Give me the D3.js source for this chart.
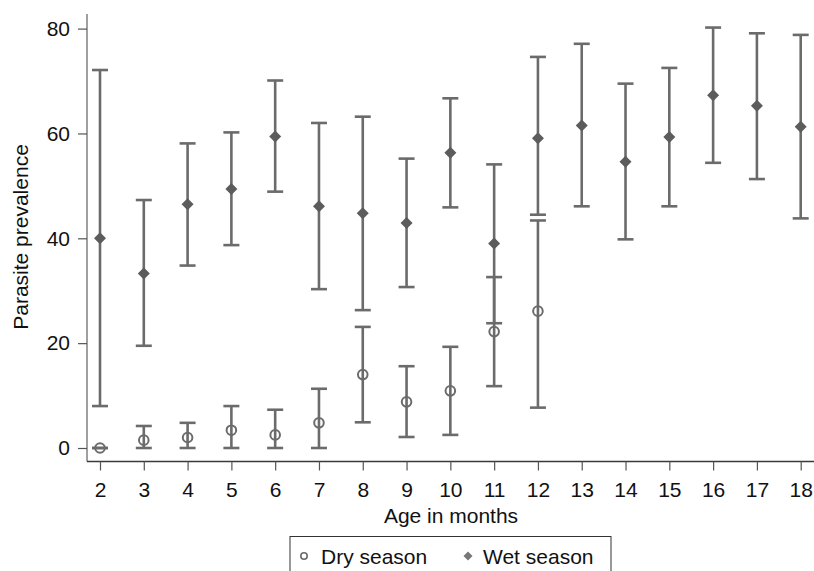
<!DOCTYPE html>
<html><head><meta charset="utf-8">
<script src="https://cdn.jsdelivr.net/npm/d3@7"></script>
<style>body{margin:0;background:#fff;} svg{display:block;font-family:"Liberation Sans",Arial,Helvetica,sans-serif;}</style>
</head><body>
<svg id="c" width="814" height="571"></svg>
<script>
const ages = [2,3,4,5,6,7,8,9,10,11,12,13,14,15,16,17,18];
const wetMean = [40.0,33.3,46.5,49.4,59.4,46.1,44.8,42.9,56.3,39.0,59.1,61.5,54.6,59.3,67.3,65.3,61.3];
const wetLow  = [8.0,19.5,34.8,38.7,48.9,30.3,26.3,30.7,45.9,23.8,44.5,46.1,39.8,46.1,54.4,51.3,43.8];
const wetHigh = [72.1,47.3,58.1,60.2,70.1,62.0,63.2,55.2,66.7,54.1,74.6,77.1,69.5,72.5,80.2,79.1,78.8];
const dryAges = [2,3,4,5,6,7,8,9,10,11,12];
const dryMean = [0.0,1.5,2.0,3.4,2.5,4.8,14.0,8.8,10.9,22.2,26.1];
const dryLow  = [0.0,0.0,0.0,0.0,0.0,0.0,4.9,2.1,2.5,11.8,7.7];
const dryHigh = [0.0,4.2,4.8,8.0,7.3,11.3,23.1,15.6,19.3,32.6,43.4];
const yTicks = [0,20,40,60,80];
const legendLabels = ["Dry season","Wet season"];

const FS = 21;
const svg = d3.select("#c");
const x = d3.scaleLinear().domain([2,18]).range([100,800.7]);
const y = d3.scaleLinear().domain([0,80]).range([448,28.6]);
const col = "#6b6b6b";
const fill = "#5c5c5c";
const capW = 8;

// axes lines
const x0 = 87, yBottom = 461.5, yTop = 14, xRight = 814;
svg.append("line").attr("x1",x0).attr("x2",x0).attr("y1",yTop).attr("y2",yBottom).attr("stroke","#808080").attr("stroke-width",1.5);
svg.append("line").attr("x1",x0).attr("x2",xRight).attr("y1",yBottom).attr("y2",yBottom).attr("stroke","#3a3a3a").attr("stroke-width",1.3);

// y axis ticks
const yAxis = d3.axisLeft(y).tickValues(yTicks).tickSize(9).tickPadding(8);
const gy = svg.append("g").attr("transform",`translate(${x0},0)`).call(yAxis);
gy.select(".domain").remove();
gy.selectAll(".tick line").attr("stroke","#555").attr("stroke-width",1.2);
gy.selectAll(".tick text").attr("font-size",FS).attr("fill","#111").attr("font-family","Liberation Sans, Arial, sans-serif");

// x axis ticks
const xAxis = d3.axisBottom(x).tickValues(ages).tickFormat(d3.format("d")).tickSize(9).tickPadding(12);
const gx = svg.append("g").attr("transform",`translate(0,${yBottom})`).call(xAxis);
gx.select(".domain").remove();
gx.selectAll(".tick line").attr("stroke","#555").attr("stroke-width",1.2);
gx.selectAll(".tick text").attr("font-size",FS).attr("fill","#111").attr("font-family","Liberation Sans, Arial, sans-serif");

// axis titles
svg.append("text").attr("x",451).attr("y",523).attr("text-anchor","middle").attr("font-size",FS).attr("fill","#111").text("Age in months");
svg.append("text").attr("transform","translate(28,237) rotate(-90)").attr("text-anchor","middle").attr("font-size",FS).attr("fill","#111").text("Parasite prevalence");

function errbars(xs, lo, hi) {
  const g = svg.append("g");
  xs.forEach((a,i)=>{
    const cx = x(a);
    g.append("line").attr("x1",cx).attr("x2",cx).attr("y1",y(lo[i])).attr("y2",y(hi[i])).attr("stroke",col).attr("stroke-width",2.6);
    [lo[i],hi[i]].forEach(v=>{
      g.append("line").attr("x1",cx-capW).attr("x2",cx+capW).attr("y1",y(v)).attr("y2",y(v)).attr("stroke",col).attr("stroke-width",2.6);
    });
  });
}
errbars(ages, wetLow, wetHigh);
errbars(dryAges, dryLow, dryHigh);

// wet diamonds
const diamond = (s)=>`M0,${-s}L${s},0L0,${s}L${-s},0Z`;
svg.append("g").selectAll("path").data(ages).join("path")
  .attr("d",diamond(6)).attr("transform",(d,i)=>`translate(${x(d)},${y(wetMean[i])})`).attr("fill",fill);
// dry circles
svg.append("g").selectAll("circle").data(dryAges).join("circle")
  .attr("cx",d=>x(d)).attr("cy",(d,i)=>y(dryMean[i])).attr("r",4.8)
  .attr("fill","none").attr("stroke",col).attr("stroke-width",2);

// legend
svg.append("rect").attr("x",290).attr("y",536.5).attr("width",321).attr("height",50).attr("fill","#fff").attr("stroke","#333").attr("stroke-width",1);
svg.append("circle").attr("cx",304).attr("cy",556).attr("r",3.2).attr("fill","none").attr("stroke",col).attr("stroke-width",1.6);
svg.append("text").attr("x",321).attr("y",563.5).attr("font-size",FS).attr("fill","#111").text(legendLabels[0]);
svg.append("path").attr("d",diamond(4.5)).attr("transform","translate(468,556)").attr("fill","#777");
svg.append("text").attr("x",483).attr("y",563.5).attr("font-size",FS).attr("fill","#111").text(legendLabels[1]);
</script>
</body></html>
